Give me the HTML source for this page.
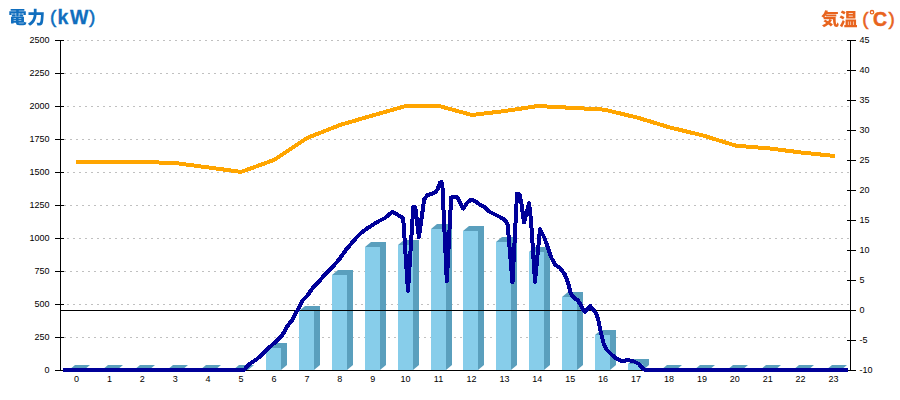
<!DOCTYPE html>
<html><head><meta charset="utf-8"><style>
html,body{margin:0;padding:0;background:#fff;width:900px;height:400px;overflow:hidden}
svg{display:block}
text{font-family:"Liberation Sans",sans-serif}
</style></head><body>
<svg width="900" height="400" viewBox="0 0 900 400">
<line x1="64" y1="337.5" x2="849" y2="337.5" stroke="#c0c0c0" stroke-width="1" stroke-dasharray="2 4"/>
<line x1="67" y1="304.5" x2="849" y2="304.5" stroke="#c0c0c0" stroke-width="1" stroke-dasharray="2 4"/>
<line x1="64" y1="271.5" x2="849" y2="271.5" stroke="#c0c0c0" stroke-width="1" stroke-dasharray="2 4"/>
<line x1="67" y1="238.5" x2="849" y2="238.5" stroke="#c0c0c0" stroke-width="1" stroke-dasharray="2 4"/>
<line x1="64" y1="205.5" x2="849" y2="205.5" stroke="#c0c0c0" stroke-width="1" stroke-dasharray="2 4"/>
<line x1="67" y1="172.5" x2="849" y2="172.5" stroke="#c0c0c0" stroke-width="1" stroke-dasharray="2 4"/>
<line x1="64" y1="139.5" x2="849" y2="139.5" stroke="#c0c0c0" stroke-width="1" stroke-dasharray="2 4"/>
<line x1="67" y1="106.5" x2="849" y2="106.5" stroke="#c0c0c0" stroke-width="1" stroke-dasharray="2 4"/>
<line x1="64" y1="73.5" x2="849" y2="73.5" stroke="#c0c0c0" stroke-width="1" stroke-dasharray="2 4"/>
<line x1="67" y1="40.5" x2="849" y2="40.5" stroke="#c0c0c0" stroke-width="1" stroke-dasharray="2 4"/>
<polygon points="69,370 75,365 90,365 90,365 84,370 69,370" fill="#5a9fbd"/>
<polygon points="102,370 108,365 123,365 123,365 117,370 102,370" fill="#5a9fbd"/>
<polygon points="134,370 140,365 155,365 155,365 149,370 134,370" fill="#5a9fbd"/>
<polygon points="167,370 173,365 188,365 188,365 182,370 167,370" fill="#5a9fbd"/>
<polygon points="200,370 206,365 221,365 221,365 215,370 200,370" fill="#5a9fbd"/>
<polygon points="233,370 239,365 254,365 254,365 248,370 233,370" fill="#5a9fbd"/>
<polygon points="266,348 272,343 287,343 287,365 281,370 266,370" fill="#5a9fbd"/>
<rect x="266" y="348" width="15" height="22" fill="#87cdea"/>
<polygon points="299,311 305,306 320,306 320,365 314,370 299,370" fill="#5a9fbd"/>
<rect x="299" y="311" width="15" height="59" fill="#87cdea"/>
<polygon points="332,275 338,270 353,270 353,365 347,370 332,370" fill="#5a9fbd"/>
<rect x="332" y="275" width="15" height="95" fill="#87cdea"/>
<polygon points="365,247 371,242 386,242 386,365 380,370 365,370" fill="#5a9fbd"/>
<rect x="365" y="247" width="15" height="123" fill="#87cdea"/>
<polygon points="398,245 404,240 419,240 419,365 413,370 398,370" fill="#5a9fbd"/>
<rect x="398" y="245" width="15" height="125" fill="#87cdea"/>
<polygon points="431,229 437,224 452,224 452,365 446,370 431,370" fill="#5a9fbd"/>
<rect x="431" y="229" width="15" height="141" fill="#87cdea"/>
<polygon points="463,231 469,226 484,226 484,365 478,370 463,370" fill="#5a9fbd"/>
<rect x="463" y="231" width="15" height="139" fill="#87cdea"/>
<polygon points="496,242 502,237 517,237 517,365 511,370 496,370" fill="#5a9fbd"/>
<rect x="496" y="242" width="15" height="128" fill="#87cdea"/>
<polygon points="529,252 535,247 550,247 550,365 544,370 529,370" fill="#5a9fbd"/>
<rect x="529" y="252" width="15" height="118" fill="#87cdea"/>
<polygon points="562,297 568,292 583,292 583,365 577,370 562,370" fill="#5a9fbd"/>
<rect x="562" y="297" width="15" height="73" fill="#87cdea"/>
<polygon points="595,335 601,330 616,330 616,365 610,370 595,370" fill="#5a9fbd"/>
<rect x="595" y="335" width="15" height="35" fill="#87cdea"/>
<polygon points="628,364 634,359 649,359 649,365 643,370 628,370" fill="#5a9fbd"/>
<rect x="628" y="364" width="15" height="6" fill="#87cdea"/>
<polygon points="661,370 667,365 682,365 682,365 676,370 661,370" fill="#5a9fbd"/>
<polygon points="694,370 700,365 715,365 715,365 709,370 694,370" fill="#5a9fbd"/>
<polygon points="727,370 733,365 748,365 748,365 742,370 727,370" fill="#5a9fbd"/>
<polygon points="760,370 766,365 781,365 781,365 775,370 760,370" fill="#5a9fbd"/>
<polygon points="793,370 799,365 814,365 814,365 808,370 793,370" fill="#5a9fbd"/>
<polygon points="826,370 832,365 847,365 847,365 841,370 826,370" fill="#5a9fbd"/>
<line x1="60" y1="370.5" x2="850" y2="370.5" stroke="#000" stroke-width="1"/>
<line x1="60" y1="310.5" x2="856" y2="310.5" stroke="#000" stroke-width="1"/>
<line x1="60.5" y1="40" x2="60.5" y2="371" stroke="#000" stroke-width="1"/>
<line x1="55" y1="370.5" x2="64" y2="370.5" stroke="#000" stroke-width="1"/>
<line x1="55" y1="337.5" x2="64" y2="337.5" stroke="#000" stroke-width="1"/>
<line x1="55" y1="304.5" x2="64" y2="304.5" stroke="#000" stroke-width="1"/>
<line x1="55" y1="271.5" x2="64" y2="271.5" stroke="#000" stroke-width="1"/>
<line x1="55" y1="238.5" x2="64" y2="238.5" stroke="#000" stroke-width="1"/>
<line x1="55" y1="205.5" x2="64" y2="205.5" stroke="#000" stroke-width="1"/>
<line x1="55" y1="172.5" x2="64" y2="172.5" stroke="#000" stroke-width="1"/>
<line x1="55" y1="139.5" x2="64" y2="139.5" stroke="#000" stroke-width="1"/>
<line x1="55" y1="106.5" x2="64" y2="106.5" stroke="#000" stroke-width="1"/>
<line x1="55" y1="73.5" x2="64" y2="73.5" stroke="#000" stroke-width="1"/>
<line x1="55" y1="40.5" x2="64" y2="40.5" stroke="#000" stroke-width="1"/>
<line x1="850.5" y1="40" x2="850.5" y2="371" stroke="#000" stroke-width="1"/>
<line x1="847" y1="370.5" x2="856" y2="370.5" stroke="#000" stroke-width="1"/>
<line x1="847" y1="340.5" x2="856" y2="340.5" stroke="#000" stroke-width="1"/>
<line x1="847" y1="310.5" x2="856" y2="310.5" stroke="#000" stroke-width="1"/>
<line x1="847" y1="280.5" x2="856" y2="280.5" stroke="#000" stroke-width="1"/>
<line x1="847" y1="250.5" x2="856" y2="250.5" stroke="#000" stroke-width="1"/>
<line x1="847" y1="220.5" x2="856" y2="220.5" stroke="#000" stroke-width="1"/>
<line x1="847" y1="190.5" x2="856" y2="190.5" stroke="#000" stroke-width="1"/>
<line x1="847" y1="160.5" x2="856" y2="160.5" stroke="#000" stroke-width="1"/>
<line x1="847" y1="130.5" x2="856" y2="130.5" stroke="#000" stroke-width="1"/>
<line x1="847" y1="100.5" x2="856" y2="100.5" stroke="#000" stroke-width="1"/>
<line x1="847" y1="70.5" x2="856" y2="70.5" stroke="#000" stroke-width="1"/>
<line x1="847" y1="40.5" x2="856" y2="40.5" stroke="#000" stroke-width="1"/>
<polyline points="76,162 109,162 142,162 175,163 208,167.4 241,171.9 274,160 307,138 340,125 373,115.3 406,106 439,106 472,115 505,111 538,106 571,107.8 604,109.6 637,117.5 670,127.5 703,135.5 736,145.7 769,148.4 802,152.6 835,156" fill="none" stroke="#ffa500" stroke-width="4" stroke-linejoin="miter" shape-rendering="crispEdges"/>
<polyline points="63,370 244,370 249.8,363.7 256.3,359.6 262.8,353.9 269.3,347.4 275.8,341.7 282.3,335.2 287.2,326.3 292.3,320 297,311 302.3,300.8 307.5,295.5 312.8,287.7 318.9,281.5 325,274.5 332,267.5 339,259.6 346,249.8 352,242.7 356.5,237.5 361,233 367,228.5 373,224.7 379,221 385,218 389.5,214.2 392.5,212 400.2,216.2 403.2,218.5 408,291 413.3,206.8 415.3,207.5 418.9,237 424.2,199.5 427.2,195.2 431.7,193.7 435.5,192.2 437.7,189.2 440,182.5 441.5,182 442.5,188 446.8,281.5 451.2,197.5 454.2,196.5 457.5,197.5 463.2,208.5 467,203 471,199.5 475,201 480,204.7 484.5,207 489,211.5 495,214.5 501,217.5 505.5,220.5 507.7,225 512.5,282.5 517,194 519.5,194.5 521.5,204 524,222.5 529,203 531,220 535,281.7 540,229 544.5,238 548,248 551.5,258 555,264.5 560,268 564.7,274.3 568.2,283 570.7,293.2 573.7,297.7 577.5,300 580.5,304.5 582.7,309 585,312 587.2,309 590.2,306 593.2,309.7 596.2,313.5 598.5,321 600,328.5 601,333 604,345 607,350 612,355 617,359 622,361.2 628,360 634,361.5 639,364 643,369 646,370 848,370" fill="none" stroke="#000099" stroke-width="4" stroke-linejoin="round" shape-rendering="crispEdges"/>
<g font-size="9" fill="#000">
<text x="49.5" y="372.5" text-anchor="end">0</text>
<text x="49.5" y="339.5" text-anchor="end">250</text>
<text x="49.5" y="306.5" text-anchor="end">500</text>
<text x="49.5" y="273.5" text-anchor="end">750</text>
<text x="49.5" y="240.5" text-anchor="end">1000</text>
<text x="49.5" y="207.5" text-anchor="end">1250</text>
<text x="49.5" y="174.5" text-anchor="end">1500</text>
<text x="49.5" y="141.5" text-anchor="end">1750</text>
<text x="49.5" y="108.5" text-anchor="end">2000</text>
<text x="49.5" y="75.5" text-anchor="end">2250</text>
<text x="49.5" y="42.5" text-anchor="end">2500</text>
<text x="859.5" y="372.5">-10</text>
<text x="859.5" y="342.5">-5</text>
<text x="859.5" y="312.5">0</text>
<text x="859.5" y="282.5">5</text>
<text x="859.5" y="252.5">10</text>
<text x="859.5" y="222.5">15</text>
<text x="859.5" y="192.5">20</text>
<text x="859.5" y="162.5">25</text>
<text x="859.5" y="132.5">30</text>
<text x="859.5" y="102.5">35</text>
<text x="859.5" y="72.5">40</text>
<text x="859.5" y="42.5">45</text>
<text x="76.5" y="381.5" text-anchor="middle">0</text>
<text x="109.4" y="381.5" text-anchor="middle">1</text>
<text x="142.3" y="381.5" text-anchor="middle">2</text>
<text x="175.2" y="381.5" text-anchor="middle">3</text>
<text x="208.1" y="381.5" text-anchor="middle">4</text>
<text x="241.0" y="381.5" text-anchor="middle">5</text>
<text x="274.0" y="381.5" text-anchor="middle">6</text>
<text x="306.9" y="381.5" text-anchor="middle">7</text>
<text x="339.8" y="381.5" text-anchor="middle">8</text>
<text x="372.7" y="381.5" text-anchor="middle">9</text>
<text x="405.6" y="381.5" text-anchor="middle">10</text>
<text x="438.5" y="381.5" text-anchor="middle">11</text>
<text x="471.5" y="381.5" text-anchor="middle">12</text>
<text x="504.4" y="381.5" text-anchor="middle">13</text>
<text x="537.3" y="381.5" text-anchor="middle">14</text>
<text x="570.2" y="381.5" text-anchor="middle">15</text>
<text x="603.1" y="381.5" text-anchor="middle">16</text>
<text x="636.0" y="381.5" text-anchor="middle">17</text>
<text x="669.0" y="381.5" text-anchor="middle">18</text>
<text x="701.9" y="381.5" text-anchor="middle">19</text>
<text x="734.8" y="381.5" text-anchor="middle">20</text>
<text x="767.7" y="381.5" text-anchor="middle">21</text>
<text x="800.6" y="381.5" text-anchor="middle">22</text>
<text x="833.5" y="381.5" text-anchor="middle">23</text>
</g>
<g fill="#106ebe"><path transform="translate(8.38,7.99) scale(0.01831,0.01765)" d="M209 302V377H399V302ZM191 400V476H399V400ZM597 400V476H805V400ZM597 302V377H782V302ZM707 710V740H557V710ZM707 627H557V596H707ZM418 710V740H284V710ZM418 627H284V596H418ZM145 501V875H284V835H418C421 943 465 975 613 975C646 975 777 975 811 975C929 975 968 942 984 821C947 814 893 796 864 776C857 852 847 866 799 866C765 866 655 866 627 866C575 866 560 862 558 835H851V501ZM50 186V396H178V280H426V478H568V280H818V396H952V186H568V162H872V57H124V162H426V186Z"/><path transform="translate(27.22,8.22) scale(0.01797,0.01792)" d="M367 27V228H71V377H361C343 545 275 742 38 862C74 888 129 945 153 981C429 831 501 585 517 377H766C752 646 733 772 704 801C690 814 678 818 658 818C630 818 574 818 513 813C541 855 562 921 564 964C624 966 686 966 725 959C772 952 804 939 837 896C882 841 901 688 920 295C922 276 923 228 923 228H522V27Z"/><g stroke="#106ebe" stroke-width="0.5"><text x="50.1" y="22.75" font-size="19">(</text><text x="89.05" y="22.75" font-size="19">)</text></g><text x="57.4 69.9" y="24" font-size="19.5" font-weight="bold" stroke="#106ebe" stroke-width="0.3">kW</text></g>
<g fill="#e8641e"><path transform="translate(821.05,9.87) scale(0.01807,0.01752)" d="M132 656C181 683 234 715 286 749C219 804 139 850 54 882C86 908 139 965 161 995C248 954 331 899 406 832C461 873 509 913 541 948L657 837C621 801 569 762 510 722C546 678 578 630 605 579L469 535H662C669 784 702 977 856 977C941 977 967 919 977 794C947 772 912 735 884 701C883 780 879 831 866 832C818 832 806 645 810 414H185C213 384 240 349 264 311V381H845V265H291L307 235H933V116H359C367 95 374 74 380 52L227 19C191 158 115 287 14 360C50 380 113 422 143 449V535H462C442 574 418 611 390 646C337 614 283 584 236 560Z"/><path transform="translate(839.20,9.82) scale(0.01822,0.01834)" d="M518 324H748V360H518ZM518 180H748V216H518ZM382 63V477H891V63ZM86 141C148 171 232 219 271 253L354 137C311 105 224 62 164 37ZM22 413C85 442 171 489 211 521L289 404C245 373 157 331 95 308ZM38 866 162 953C214 854 265 745 310 641L200 554C149 670 84 791 38 866ZM279 821V946H977V821H926V522H350V821ZM479 821V643H512V821ZM617 821V643H650V821ZM756 821V643H789V821Z"/><g stroke="#e8641e" stroke-width="0.5"><text x="862.2" y="24.85" font-size="19">(</text><text x="888.55" y="24.85" font-size="19">)</text></g><text x="873.1" y="26" font-size="19.5" font-weight="bold" stroke="#e8641e" stroke-width="0.5">C</text><circle cx="872" cy="12.2" r="1.7" fill="none" stroke="#e8641e" stroke-width="1.3"/></g>
</svg>
</body></html>
